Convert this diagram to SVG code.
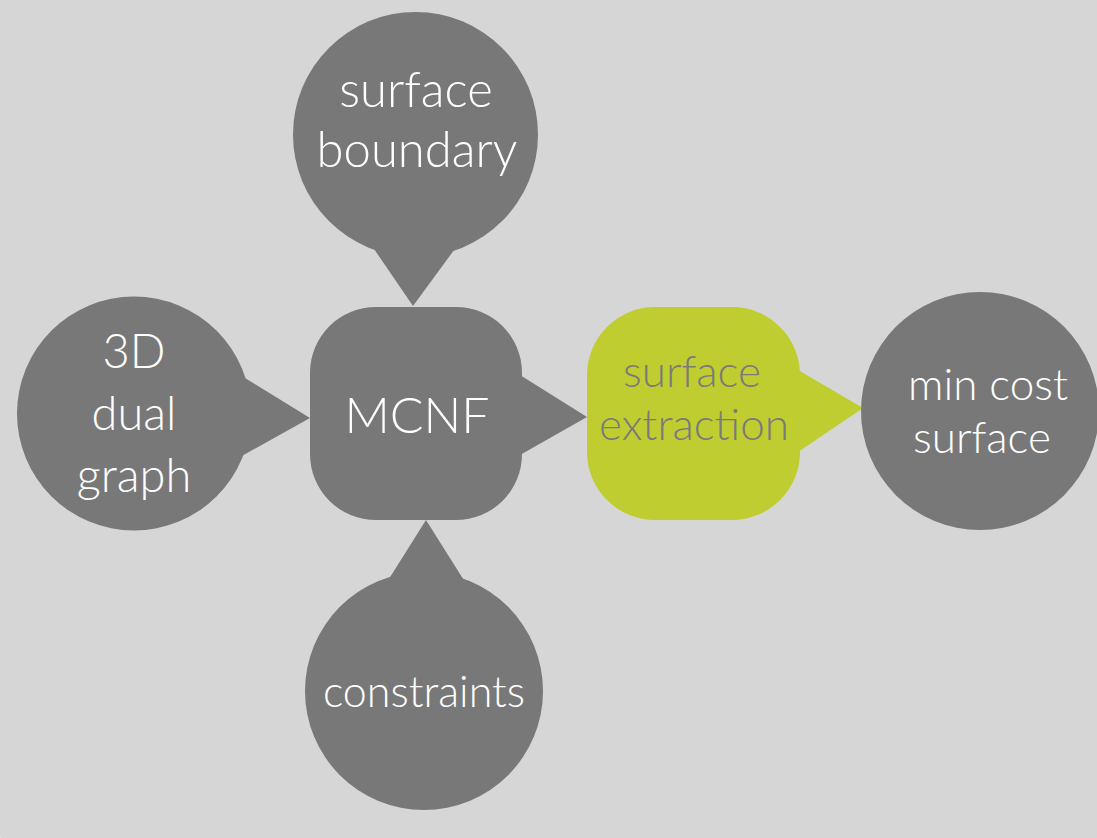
<svg xmlns="http://www.w3.org/2000/svg" width="1097" height="838" viewBox="0 0 1097 838">
  <style>
    .page { fill: #e6e8ec; }
    .panel { fill: #d6d6d6; }
    .shape { fill: #787878; }
    .accent { fill: #bfcd31; }
    .lbl { font-family: Lato, "Open Sans", "Liberation Sans", sans-serif; font-weight: 300; text-anchor: middle; fill: #ffffff; }
    .lbl-dark { fill: #7a7a7a; }
  </style>

  <!-- backdrop -->
  <rect class="page" x="0" y="0" width="1097" height="838"/>
  <rect class="panel" x="-6" y="-40" width="1200" height="882" rx="20"/>

  <!-- callout pointers -->
  <g id="connectors">
    <polygon class="shape" points="372,246 457,246 413,306"/>
    <polygon class="shape" points="240,375 240,457 310,418"/>
    <polygon class="shape" points="387,582 465,582 426,520"/>
    <polygon class="shape" points="520,375 520,455 587,417"/>
    <polygon class="accent" points="798,370 798,452 863,408"/>
  </g>

  <g id="surface-boundary">
    <circle class="shape" cx="415.5" cy="134.5" r="122.5"/>
    <text class="lbl" x="416" y="107" font-size="49">surface</text>
    <text class="lbl" x="417" y="167" font-size="49">boundary</text>
  </g>

  <g id="dual-graph">
    <circle class="shape" cx="134" cy="413.5" r="117"/>
    <text class="lbl" x="134" y="368" font-size="47">3D</text>
    <text class="lbl" x="134" y="430" font-size="47">dual</text>
    <text class="lbl" x="134" y="492" font-size="47">graph</text>
  </g>

  <g id="mcnf">
    <rect class="shape" x="310" y="307" width="212" height="213" rx="66"/>
    <text class="lbl" x="417" y="433" font-size="50">MCNF</text>
  </g>

  <g id="constraints">
    <circle class="shape" cx="424" cy="691" r="119"/>
    <text class="lbl" x="424" y="707" font-size="43">constraints</text>
  </g>

  <g id="surface-extraction">
    <rect class="accent" x="587" y="307" width="213" height="213" rx="68"/>
    <text class="lbl lbl-dark" x="692" y="387" font-size="44">surface</text>
    <text class="lbl lbl-dark" x="694" y="440" font-size="44">extraction</text>
  </g>

  <g id="min-cost-surface">
    <circle class="shape" cx="980" cy="411" r="119"/>
    <text class="lbl" x="988" y="400" font-size="44">min cost</text>
    <text class="lbl" x="982" y="453" font-size="44">surface</text>
  </g>
</svg>
